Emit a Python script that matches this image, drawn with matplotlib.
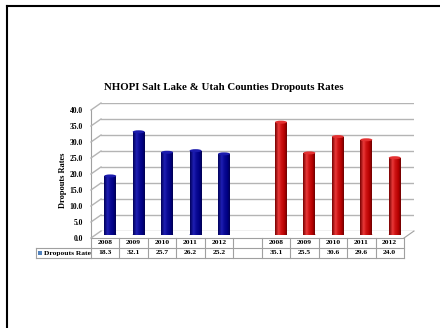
import numpy as np
import matplotlib
matplotlib.use("Agg")
import matplotlib.pyplot as plt
from matplotlib.colors import LinearSegmentedColormap
from matplotlib.patches import Ellipse, Rectangle
from matplotlib.lines import Line2D
from matplotlib.transforms import blended_transform_factory

# ---- data -------------------------------------------------------------
years = ["2008", "2009", "2010", "2011", "2012"]
salt_lake_rates = [18.3, 32.1, 25.7, 26.2, 25.2]
utah_rates = [35.1, 25.5, 30.6, 29.6, 24.0]
y_ticks = [0, 5, 10, 15, 20, 25, 30, 35, 40]
title = "NHOPI Salt Lake & Utah Counties Dropouts Rates"
y_label = "Dropouts Rates"
row_label = "Dropouts Rate"

# ---- layout -----------------------------------------------------------
plt.rcParams['font.family'] = ['Liberation Serif', 'DejaVu Serif']
plt.rcParams['font.weight'] = 'bold'

W, H = 440, 328
fig = plt.figure(figsize=(W / 100, H / 100), dpi=100)

labels = years + [""] + years
values = salt_lake_rates + [None] + utah_rates
n_slots = len(labels)

plot_w, plot_h = 313, 128
depth_dx, depth_dy = 10, 7
x0, base_y = 91, 238


def px_axes(left, baseline, width, height):
    # left edge / baseline are pixel positions measured from the top-left
    ax = fig.add_axes([left / W, (H - baseline) / H, width / W, height / H])
    ax.set_xlim(0, n_slots)
    ax.set_ylim(0, 40)
    ax.patch.set_visible(False)
    return ax


ax_back = px_axes(x0 + depth_dx, base_y - depth_dy, plot_w, plot_h)
ax_bars = px_axes(x0 + depth_dx / 2, base_y - depth_dy / 2, plot_w, plot_h)
ax_front = px_axes(x0, base_y, plot_w, plot_h)

grid_c = "#b4b4b4"
line_c = "#a0a0a0"

# back wall gridlines
for v in y_ticks:
    ax_back.axhline(v, color=grid_c, lw=1.0, zorder=0)
ax_back.axis("off")
ax_bars.axis("off")

# front plane: left wall edge, floor edge and value axis labels
for s in ["top", "right"]:
    ax_front.spines[s].set_visible(False)
ax_front.spines["left"].set_color(line_c)
ax_front.spines["bottom"].set_color(line_c)
ax_front.spines["left"].set_linewidth(0.8)
ax_front.spines["bottom"].set_linewidth(0.8)
ax_front.set_xticks([])
ax_front.set_yticks(y_ticks)
ax_front.set_yticklabels([f"{v:.1f}" for v in y_ticks], fontsize=5.5,
                         fontweight="bold")
ax_front.tick_params(axis="y", length=0, pad=6)

# side wall diagonals and floor right edge
to_fig = fig.transFigure.inverted()
for v in y_ticks:
    p1 = to_fig.transform(ax_front.transData.transform((0, v)))
    p2 = to_fig.transform(ax_back.transData.transform((0, v)))
    fig.add_artist(Line2D([p1[0], p2[0]], [p1[1], p2[1]], color=grid_c,
                          lw=1.0, zorder=1))
p1 = to_fig.transform(ax_front.transData.transform((n_slots, 0)))
p2 = to_fig.transform(ax_back.transData.transform((n_slots, 0)))
fig.add_artist(Line2D([p1[0], p2[0]], [p1[1], p2[1]], color=line_c, lw=0.8))

# ---- cylinder bars ----------------------------------------------------
blue_cmap = LinearSegmentedColormap.from_list(
    "cyl_blue", [(0, "#00005a"), (0.3, "#2020b4"), (0.5, "#0c0c98"),
                 (0.8, "#000082"), (1, "#000050")])
red_cmap = LinearSegmentedColormap.from_list(
    "cyl_red", [(0, "#780000"), (0.3, "#ea3a3a"), (0.5, "#d01414"),
                (0.8, "#b40000"), (1, "#6c0000")])
grad = np.linspace(0, 1, 64).reshape(1, -1)

bar_w = 0.42
cap_h = 3.0 * 40 / plot_h
for i, v in enumerate(values):
    if v is None:
        continue
    cmap = blue_cmap if i < 5 else red_cmap
    cx = i + 0.5
    ax_bars.add_patch(Ellipse((cx, 0), bar_w, cap_h, facecolor=cmap(0.6),
                              edgecolor="none", zorder=2))
    ax_bars.imshow(grad, extent=(cx - bar_w / 2, cx + bar_w / 2, 0, v),
                   aspect="auto", cmap=cmap, zorder=3, interpolation="bilinear")
    ax_bars.add_patch(Ellipse((cx, v), bar_w, cap_h, facecolor=cmap(0.35),
                              edgecolor="none", zorder=4))
ax_bars.set_xlim(0, n_slots)
ax_bars.set_ylim(0, 40)

# ---- data table -------------------------------------------------------
tr = blended_transform_factory(ax_front.transData, fig.transFigure)
row_top = (H - base_y) / H
row_mid = (H - 248) / H
row_bot = (H - 258) / H
legend_left = 36 / W
legend_right = to_fig.transform(ax_front.transData.transform((0, 0)))[0]

for k in range(n_slots + 1):
    fig.add_artist(Line2D([k, k], [row_top, row_bot], transform=tr,
                          color=line_c, lw=0.8))
for yy in (row_mid, row_bot):
    fig.add_artist(Line2D([0, n_slots], [yy, yy], transform=tr,
                          color=line_c, lw=0.8))
    fig.add_artist(Line2D([legend_left, legend_right], [yy, yy],
                          color=line_c, lw=0.8))
fig.add_artist(Line2D([legend_left, legend_left], [row_mid, row_bot],
                      color=line_c, lw=0.8))

for i, (lab, v) in enumerate(zip(labels, values)):
    if v is None:
        continue
    fig.text(i + 0.5, (row_top + row_mid) / 2, lab, transform=tr,
             ha="center", va="center", fontsize=5.4, fontweight="bold")
    fig.text(i + 0.5, (row_mid + row_bot) / 2, f"{v:.1f}", transform=tr,
             ha="center", va="center", fontsize=5.4, fontweight="bold")

fig.add_artist(Rectangle((38 / W, (H - 255) / H), 4 / W, 4 / H,
                         facecolor="#4f81bd", edgecolor="none",
                         transform=fig.transFigure))
fig.text(44 / W, (row_mid + row_bot) / 2, row_label, ha="left", va="center",
         fontsize=5.4, fontweight="bold")

# ---- titles -----------------------------------------------------------
fig.text(224 / W, (H - 87) / H, title, ha="center", va="center",
         fontsize=7.8, fontweight="bold")
fig.text(63 / W, (H - 180) / H, y_label, ha="center", va="center",
         rotation=90, fontsize=6, fontweight="bold")

# ---- page frame (left and top edges) ----------------------------------
fig.add_artist(Line2D([7 / W, 7 / W], [0, (H - 6) / H], color="black",
                      lw=1.5))
fig.add_artist(Line2D([7 / W, 1], [(H - 6) / H, (H - 6) / H], color="black",
                      lw=1.5))

fig.savefig("out.png", dpi=100)
